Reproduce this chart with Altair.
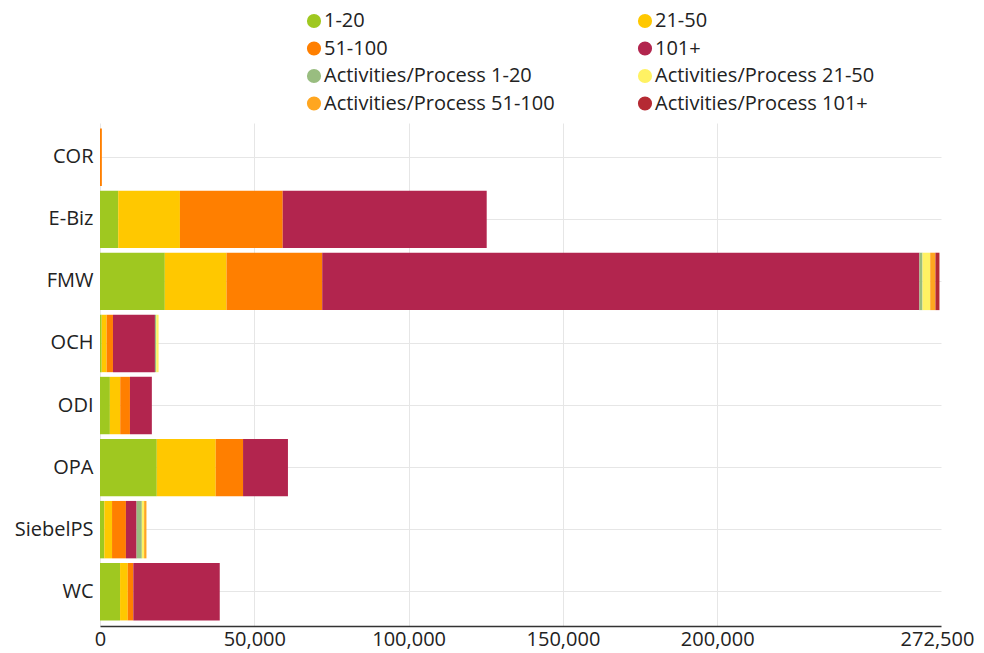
import altair as alt
import pandas as pd

categories = ["COR", "E-Biz", "FMW", "OCH", "ODI", "OPA", "SiebelPS", "WC"]
series = ["1-20", "21-50", "51-100", "101+",
          "Activities/Process 1-20", "Activities/Process 21-50",
          "Activities/Process 51-100", "Activities/Process 101+"]
colors = ["#9fc820", "#ffc800", "#ff7f00", "#b2254e",
          "#99bd80", "#fff263", "#ffa620", "#b52a33"]

v_1_20 = [0, 5900, 21000, 550, 3200, 18400, 1400, 6500]
v_21_50 = [0, 20000, 20000, 1600, 3350, 19100, 2500, 2500]
v_51_100 = [600, 33300, 31000, 2050, 3150, 8850, 4500, 1800]
v_101 = [0, 66100, 193500, 13600, 7100, 14550, 3450, 28000]
ap_1_20 = [0, 0, 1000, 430, 0, 0, 1700, 0]
ap_21_50 = [0, 0, 2500, 750, 0, 0, 750, 0]
ap_51_100 = [0, 0, 1700, 0, 0, 0, 750, 0]
ap_101 = [0, 0, 1300, 0, 0, 0, 0, 0]

x_ticks = [0, 50000, 100000, 150000, 200000, 272500]
x_max = 272500

all_vals = [v_1_20, v_21_50, v_51_100, v_101, ap_1_20, ap_21_50, ap_51_100, ap_101]
rows = []
for si, (s, vals) in enumerate(zip(series, all_vals)):
    for c, v in zip(categories, vals):
        rows.append({"category": c, "series": s, "order": si, "value": v})
df = pd.DataFrame(rows)

FONT = "Open Sans"
FS = 20

chart = alt.Chart(df).mark_bar().encode(
    y=alt.Y("category:N", sort=categories, title=None,
            scale=alt.Scale(paddingInner=0.075, paddingOuter=0.09),
            axis=alt.Axis(ticks=False, domain=False, grid=True, bandPosition=0.5,
                          gridColor="#e6e6e6", labelFontSize=FS, labelFont=FONT,
                          labelColor="#222222", labelPadding=7)),
    x=alt.X("value:Q", stack="zero", title=None,
            scale=alt.Scale(domain=[0, x_max], nice=False),
            axis=alt.Axis(values=x_ticks, format=",d", ticks=False, labelFlush=False,
                          domainColor="#333333", domainWidth=1.5,
                          gridColor="#e6e6e6",
                          gridOpacity={"condition": {"test": "datum.value > 250000", "value": 0}, "value": 1},
                          labelOffset={"condition": {"test": "datum.value > 250000", "value": -4}, "value": 0},
                          labelFontSize=FS, labelFont=FONT, labelColor="#222222",
                          labelPadding=3)),
    color=alt.Color("series:N", scale=alt.Scale(domain=series, range=colors),
                    legend=alt.Legend(title=None, orient="none", legendX=204, legendY=-112,
                                      columns=2, direction="horizontal",
                                      symbolType="circle", symbolSize=200,
                                      symbolStrokeWidth=0, labelFontSize=FS, labelFont=FONT,
                                      labelColor="#222222", labelOffset=0, columnPadding=80,
                                      rowPadding=7.5, padding=0, labelLimit=400)),
    order=alt.Order("order:Q"),
).properties(
    width=841, height=503,
    autosize=alt.AutoSizeParams(type="none"),
    padding={"left": 92, "top": 115, "right": 35, "bottom": 30},
).configure_view(stroke=None)

chart.save("out.html", embed_options={"renderer": "svg", "actions": False})
